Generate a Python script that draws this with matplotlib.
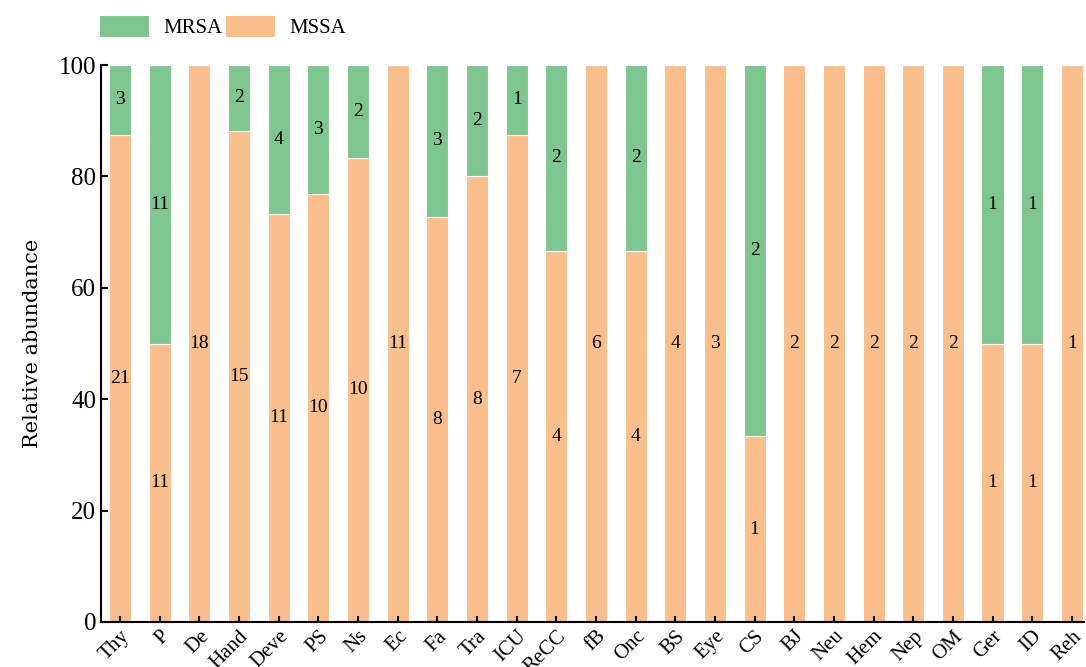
"""Stacked relative abundance of MRSA / MSSA by department."""

import matplotlib

matplotlib.use("Agg")
import matplotlib.pyplot as plt
import numpy as np

departments = ["Thy", "P", "De", "Hand", "Deve", "PS", "Ns", "Ec", "Fa", "Tra",
               "ICU", "ReCC", "fB", "Onc", "BS", "Eye", "CS", "BJ", "Neu", "Hem",
               "Nep", "OM", "Ger", "ID", "Reh"]
mrsa_counts = [3, 11, 0, 2, 4, 3, 2, 0, 3, 2, 1, 2, 0, 2, 0, 0, 2, 0, 0, 0, 0, 0, 1, 1, 0]
mssa_counts = [21, 11, 18, 15, 11, 10, 10, 11, 8, 8, 7, 4, 6, 4, 4, 3, 1, 2, 2, 2, 2, 2, 1, 1, 1]

GREEN = "#7EC58F"
ORANGE = "#F9BE8C"

plt.rcParams["font.family"] = ["Liberation Serif", "DejaVu Serif"]

mrsa = np.array(mrsa_counts, dtype=float)
mssa = np.array(mssa_counts, dtype=float)
total = mrsa + mssa
mssa_pct = mssa / total * 100
mrsa_pct = mrsa / total * 100
x = np.arange(len(departments))

fig = plt.figure(figsize=(10.86, 6.67), dpi=100)
ax = fig.add_axes([0.093, 0.0675, 0.905, 0.835])

b1 = ax.bar(x, mssa_pct, width=0.56, color=ORANGE, edgecolor="white", linewidth=0.8,
            label="MSSA")
b2 = ax.bar(x, mrsa_pct, width=0.56, bottom=mssa_pct, color=GREEN, edgecolor="white",
            linewidth=0.8, label="MRSA")

for i in range(len(x)):
    if mssa[i] > 0:
        ax.text(x[i], mssa_pct[i] / 2, f"{int(mssa[i])}", ha="center", va="center",
                fontsize=14)
    if mrsa[i] > 0:
        ax.text(x[i], mssa_pct[i] + mrsa_pct[i] / 2, f"{int(mrsa[i])}", ha="center",
                va="center", fontsize=14)

ax.set_xlim(-0.48, len(x) - 0.7)
ax.set_ylim(0, 100)
ax.set_yticks([0, 20, 40, 60, 80, 100])
ax.set_xticks(x)
ax.set_xticklabels(departments, rotation=45, ha="right", rotation_mode="anchor",
                   fontsize=15)
ax.tick_params(axis="y", labelsize=18, direction="in", length=5, width=1.5)
ax.tick_params(axis="x", direction="in", length=4, width=1.5)
for side in ("top", "right"):
    ax.spines[side].set_visible(False)
for side in ("left", "bottom"):
    ax.spines[side].set_linewidth(1.5)
ax.set_ylabel("Relative abundance", fontsize=15, labelpad=12, family="DejaVu Serif")

fig.legend([b2, b1], ["MRSA", "MSSA"], loc="upper left", bbox_to_anchor=(0.074, 1.005),
           ncol=2, frameon=False, fontsize=15, handlelength=2.4, handleheight=1.25,
           handletextpad=0.7, columnspacing=0.1)

fig.savefig("out.png", dpi=100)
plt.close(fig)
